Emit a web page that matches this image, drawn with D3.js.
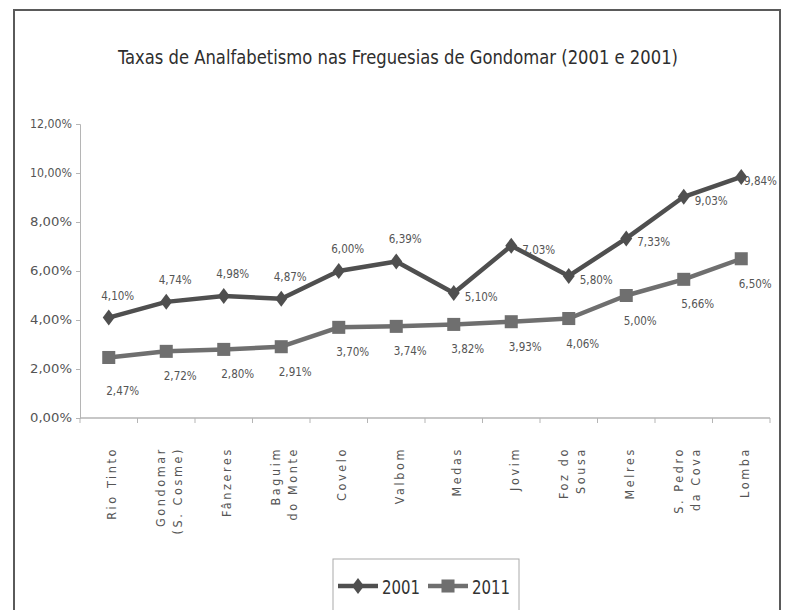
<!DOCTYPE html>
<html>
<head>
<meta charset="utf-8">
<script src="https://cdn.jsdelivr.net/npm/d3@7"></script>
<style>
  html, body { margin: 0; padding: 0; background: #fff; }
  svg { display: block; }
  text { font-family: "Liberation Sans Narrow", "DejaVu Sans Condensed", "Liberation Sans", sans-serif; }
</style>
</head>
<body>
<svg id="chart" width="785" height="610"></svg>
<script>
const categories = [
  ["Rio Tinto"], ["Gondomar", "(S. Cosme)"], ["Fânzeres"], ["Baguim", "do Monte"],
  ["Covelo"], ["Valbom"], ["Medas"], ["Jovim"], ["Foz do", "Sousa"],
  ["Melres"], ["S. Pedro", "da Cova"], ["Lomba"]
];
const values2001 = [4.10, 4.74, 4.98, 4.87, 6.00, 6.39, 5.10, 7.03, 5.80, 7.33, 9.03, 9.84];
const values2011 = [2.47, 2.72, 2.80, 2.91, 3.70, 3.74, 3.82, 3.93, 4.06, 5.00, 5.66, 6.50];
const yTicks = [0, 2, 4, 6, 8, 10, 12];
const seriesNames = ["2001", "2011"];
const titleText = "Taxas de Analfabetismo nas Freguesias de Gondomar (2001 e 2001)";

const svg = d3.select("#chart");
const fmt = v => d3.format(".2f")(v).replace(".", ",") + "%";

// chart frame
svg.append("path")
  .attr("d", "M14,612 L14,10 L780,10 L780,612")
  .attr("fill", "none").attr("stroke", "#5a5a5a").attr("stroke-width", 2);

// title
svg.append("text")
  .attr("x", 398).attr("y", 64)
  .attr("text-anchor", "middle")
  .attr("font-size", 19).attr("fill", "#2e2e2e")
  .attr("textLength", 560).attr("lengthAdjust", "spacingAndGlyphs")
  .text(titleText);

const x = d3.scaleBand().domain(d3.range(categories.length)).range([80, 770]);
const y = d3.scaleLinear().domain([0, 12]).range([418, 124]);
const cx = i => x(i) + x.bandwidth() / 2;

// y axis
const yAxis = svg.append("g").attr("transform", "translate(80,0)")
  .call(d3.axisLeft(y).tickValues(yTicks).tickFormat(fmt).tickSize(4).tickPadding(4));
yAxis.select(".domain").attr("stroke", "#b5b5b5");
yAxis.selectAll(".tick line").attr("stroke", "#b5b5b5");
yAxis.selectAll(".tick text").attr("fill", "#555").attr("font-size", 11.5)
  .attr("textLength", 42).attr("lengthAdjust", "spacingAndGlyphs")
  .attr("font-family", "Liberation Sans Narrow, DejaVu Sans Condensed, sans-serif");

// x axis
const xAxisG = svg.append("g").attr("transform", "translate(0,418)");
xAxisG.append("line").attr("x1", 80).attr("x2", 770).attr("y1", 0).attr("y2", 0)
  .attr("stroke", "#b5b5b5").attr("stroke-width", 1.5);
xAxisG.selectAll("line.tk").data(d3.range(categories.length + 1)).join("line")
  .attr("class", "tk")
  .attr("x1", i => i < categories.length ? x(i) : 770)
  .attr("x2", i => i < categories.length ? x(i) : 770)
  .attr("y1", 0).attr("y2", 5).attr("stroke", "#b5b5b5");

// category labels (rotated)
const catG = svg.append("g");
categories.forEach((lines, i) => {
  const t = catG.append("text")
    .attr("transform", `translate(${cx(i) + 3},447) rotate(-90)`)
    .attr("text-anchor", "end")
    .attr("font-size", 12.5).attr("fill", "#555")
    .attr("letter-spacing", 2.6)
    .attr("font-family", "Liberation Sans, sans-serif");
  const n = lines.length;
  lines.forEach((ln, k) => {
    t.append("tspan").attr("x", 0)
      .attr("y", (k - (n - 1) / 2) * 17 + 4.5)
      .text(ln);
  });
});

const c2001 = "#4f4f4f", c2011 = "#6f6f6f";
const line = d3.line().x((d, i) => cx(i)).y(d => y(d));

// series lines
svg.append("path").datum(values2011).attr("d", line)
  .attr("fill", "none").attr("stroke", c2011).attr("stroke-width", 4.5).attr("stroke-linejoin", "round");
svg.append("path").datum(values2001).attr("d", line)
  .attr("fill", "none").attr("stroke", c2001).attr("stroke-width", 4.5).attr("stroke-linejoin", "round");

// markers
const diamond = "M0,-8 L6,0 L0,8 L-6,0 Z";
svg.append("g").selectAll("path").data(values2011).join("path")
  .attr("d", d3.symbol().type(d3.symbolSquare).size(170))
  .attr("transform", (d, i) => `translate(${cx(i)},${y(d)})`)
  .attr("fill", c2011);
svg.append("g").selectAll("path").data(values2001).join("path")
  .attr("d", diamond)
  .attr("transform", (d, i) => `translate(${cx(i)},${y(d)})`)
  .attr("fill", c2001);

// data labels
const lblFont = "Liberation Sans Narrow, DejaVu Sans Condensed, sans-serif";
const lblW = 33;
svg.append("g").selectAll("text").data(values2001).join("text")
  .attr("x", (d, i) => i < 6 ? cx(i) + 9 : Math.min(cx(i) + 11, 777 - lblW))
  .attr("y", (d, i) => i < 6 ? y(d) - 18 : y(d) + 8)
  .attr("text-anchor", (d, i) => i < 6 ? "middle" : "start")
  .attr("font-size", 12).attr("fill", "#555").attr("font-family", lblFont)
  .attr("textLength", lblW).attr("lengthAdjust", "spacingAndGlyphs")
  .text(fmt);
svg.append("g").selectAll("text").data(values2011).join("text")
  .attr("x", (d, i) => cx(i) + 14)
  .attr("y", (d, i) => y(d) + (i === 0 ? 38 : 29))
  .attr("text-anchor", "middle")
  .attr("font-size", 12).attr("fill", "#555").attr("font-family", lblFont)
  .attr("textLength", lblW).attr("lengthAdjust", "spacingAndGlyphs")
  .text(fmt);

// legend
const lg = svg.append("g");
lg.append("rect").attr("x", 333).attr("y", 559).attr("width", 186).attr("height", 56)
  .attr("fill", "#fff").attr("stroke", "#aaa").attr("stroke-width", 1);
const legendItems = [
  { name: seriesNames[0], color: c2001, sym: "diamond", x0: 338 },
  { name: seriesNames[1], color: c2011, sym: "square", x0: 428 }
];
legendItems.forEach(it => {
  lg.append("line").attr("x1", it.x0).attr("x2", it.x0 + 40).attr("y1", 586).attr("y2", 586)
    .attr("stroke", it.color).attr("stroke-width", 4.5);
  if (it.sym === "diamond") {
    lg.append("path").attr("d", diamond).attr("transform", `translate(${it.x0 + 20},586)`).attr("fill", it.color);
  } else {
    lg.append("path").attr("d", d3.symbol().type(d3.symbolSquare).size(170))
      .attr("transform", `translate(${it.x0 + 20},586)`).attr("fill", it.color);
  }
  lg.append("text").attr("x", it.x0 + 44).attr("y", 594)
    .attr("font-size", 20).attr("fill", "#333")
    .attr("textLength", 38).attr("lengthAdjust", "spacingAndGlyphs")
    .text(it.name);
});
</script>
</body>
</html>
